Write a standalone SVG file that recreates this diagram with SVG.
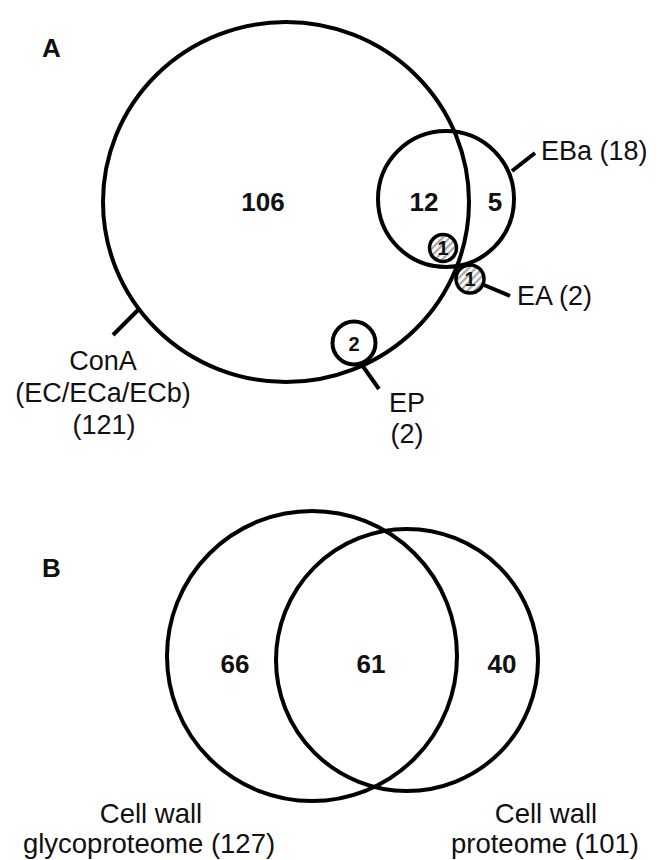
<svg xmlns="http://www.w3.org/2000/svg" width="662" height="860" viewBox="0 0 662 860">
<style>
.c{fill:none;stroke:#000;stroke-width:4}
.l{stroke:#000;stroke-width:4;fill:none}
.t{font-family:"Liberation Sans",Arial,sans-serif;font-size:27px;fill:#111}
.tb{font-family:"Liberation Sans",Arial,sans-serif;font-size:27.5px;fill:#111}
.b{font-family:"Liberation Sans",Arial,sans-serif;font-size:26px;font-weight:bold;fill:#111}
.s{font-family:"Liberation Sans",Arial,sans-serif;font-size:20px;font-weight:bold;fill:#111}
.h{fill:url(#hatch);stroke:#000;stroke-width:3.5}
</style>
<defs>
<pattern id="hatch" patternUnits="userSpaceOnUse" width="5" height="5" patternTransform="rotate(45)">
<rect width="5" height="5" fill="#fff"/>
<rect width="2.2" height="5" fill="#a8a8a8"/>
</pattern>
</defs>
<rect width="662" height="860" fill="#fff"/>
<text class="b" x="42" y="57">A</text>
<text class="b" x="42" y="577">B</text>
<g id="conA">
<ellipse class="c" cx="286" cy="202" rx="183" ry="180"/>
<text class="b" x="263" y="211" text-anchor="middle">106</text>
<text class="t" x="103" y="370" text-anchor="middle">ConA</text>
<text class="t" x="103" y="402" text-anchor="middle">(EC/ECa/ECb)</text>
<text class="t" x="104" y="434" text-anchor="middle">(121)</text>
</g>
<g id="eba">
<circle class="c" cx="446" cy="199" r="68"/>
<text class="b" x="424" y="211" text-anchor="middle">12</text>
<text class="b" x="495" y="211" text-anchor="middle">5</text>
<text class="t" x="541" y="160">EBa (18)</text>
</g>
<g id="ep">
<circle class="c" cx="354" cy="343" r="21.5"/>
<text class="s" x="354" y="350.5" text-anchor="middle">2</text>
<text class="t" x="407" y="412" text-anchor="middle">EP</text>
<text class="t" x="407" y="443" text-anchor="middle">(2)</text>
</g>
<g id="ea1">
<circle class="h" cx="443" cy="248" r="13.5"/>
<text class="s" x="443" y="255" text-anchor="middle">1</text>
</g>
<g id="ea2">
<circle class="h" cx="470" cy="279" r="14"/>
<text class="s" x="470" y="286" text-anchor="middle">1</text>
<text class="t" x="517" y="305">EA (2)</text>
</g>
<g id="glyco">
<circle class="c" cx="312" cy="656" r="145"/>
<text class="b" x="235" y="673" text-anchor="middle">66</text>
<text class="tb" x="151" y="823" text-anchor="middle">Cell wall</text>
<text class="tb" x="149" y="853" text-anchor="middle">glycoproteome (127)</text>
</g>
<g id="proteome">
<circle class="c" cx="407" cy="660" r="131"/>
<text class="b" x="371" y="673" text-anchor="middle">61</text>
<text class="b" x="502" y="673" text-anchor="middle">40</text>
<text class="tb" x="546" y="823" text-anchor="middle">Cell wall</text>
<text class="tb" x="545" y="853" text-anchor="middle">proteome (101)</text>
</g>
<g id="connectors">
<line class="l" x1="138" y1="310" x2="113" y2="335"/>
<line class="l" x1="512" y1="171" x2="535" y2="153"/>
<line class="l" x1="484" y1="285" x2="510" y2="296"/>
<line class="l" x1="362" y1="365" x2="379" y2="389"/>
</g>
</svg>
